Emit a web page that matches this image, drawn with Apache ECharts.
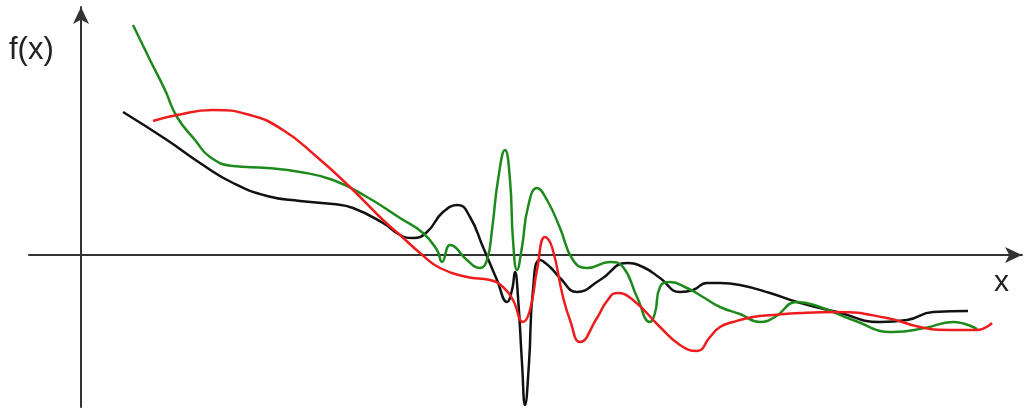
<!DOCTYPE html>
<html>
<head>
<meta charset="utf-8">
<style>
  html, body { margin: 0; padding: 0; background: #ffffff; }
  #chart { width: 1024px; height: 409px; }
</style>
<script src="https://cdn.jsdelivr.net/npm/echarts@6/dist/echarts.min.js"></script>
</head>
<body>
<div id="chart"></div>
<script>
// Three approximations of f(x), each as [x, f(x)] samples.
const blackCurve = [
  [4.2, 14.3], [8.6, 11.5], [11.9, 9.2], [15.2, 7.2], [18.6, 5.9],
  [21.9, 5.4], [25.2, 5.1], [27.2, 4.7], [30.2, 3.2], [31.9, 2.0], [33.2, 1.7],
  [34.6, 2.3], [36.2, 4.3], [37.7, 5.0], [38.9, 3.8], [40.2, 0.8], [41.6, -2.5],
  [42.6, -4.7], [43.1, -3.5], [43.4, -1.7], [43.7, -4.2], [44.1, -10.8], [44.4, -15.0],
  [44.8, -10.8], [45.2, -3.5], [45.9, -0.5], [46.9, -1.2], [47.9, -2.3], [49.6, -3.7],
  [51.9, -2.5], [54.6, -0.8], [56.2, -1.2], [57.9, -2.3], [59.9, -3.7], [61.2, -3.5],
  [62.6, -2.8], [63.9, -2.8], [65.9, -3.0], [68.9, -3.8], [71.6, -4.7], [75.6, -5.7],
  [79.9, -6.7], [82.6, -6.5], [85.2, -5.7], [88.7, -5.6]
];

const greenCurve = [
  [5.2, 23.0], [6.9, 19.5], [8.4, 16.5], [9.6, 13.8], [11.4, 11.5], [12.9, 9.8],
  [15.2, 8.9], [18.6, 8.7], [21.9, 8.3], [25.2, 7.5], [28.6, 5.8], [31.9, 3.7],
  [34.2, 2.2], [35.6, 0.5], [36.1, -0.7], [36.9, 1.0], [37.4, 0.8], [38.6, -0.5],
  [39.9, -1.3], [40.6, -0.5], [41.1, 2.5], [41.7, 7.5], [42.4, 10.5], [42.9, 7.5],
  [43.2, 1.5], [43.6, -1.5], [44.1, 0.8], [44.7, 4.8], [45.6, 6.7], [46.6, 5.5],
  [47.9, 2.7], [49.2, -0.5], [50.6, -1.3], [52.9, -0.7], [54.2, -1.2], [55.6, -4.2],
  [56.9, -6.7], [57.4, -5.8], [57.9, -3.2], [58.9, -2.7], [60.6, -3.3], [62.2, -4.2],
  [63.9, -5.2], [65.9, -5.9], [67.9, -6.7], [69.4, -6.2], [71.6, -4.7], [73.9, -5.2],
  [77.2, -6.5], [81.2, -7.7], [84.4, -7.3], [87.2, -6.7], [89.6, -7.4]
];

const redCurve = [
  [7.2, 13.4], [9.6, 14.0], [13.2, 14.5], [16.9, 14.0], [20.2, 12.5],
  [23.6, 9.8], [26.9, 6.8], [30.2, 3.5], [31.9, 2.0], [33.9, 0.2], [35.9, -1.3],
  [38.6, -2.2], [40.9, -2.5], [42.2, -3.2], [43.2, -4.5], [44.2, -6.7], [44.9, -5.5],
  [45.6, -1.5], [46.4, 1.8], [47.1, 0.8], [48.2, -4.2], [48.9, -6.5], [49.9, -8.7],
  [51.6, -6.3], [52.6, -4.6], [53.6, -3.8], [55.2, -4.5], [57.9, -7.2], [59.9, -9.0], [61.6, -9.6],
  [62.9, -8.2], [63.9, -7.2], [65.2, -6.7], [67.2, -6.2], [69.2, -6.0], [71.9, -5.8],
  [75.6, -5.7], [80.6, -6.3], [83.9, -7.2], [86.9, -7.5], [89.6, -7.5], [91.1, -6.8]
];

// Axis extents
const xRange = [-5.2, 94.1];
const yRange = [-15.2, 24.8];
const axisTitles = { y: 'f(x)', x: 'x' };

const axisLine = {
  show: true,
  onZero: true,
  symbol: ['none', 'arrow'],
  symbolSize: [12, 17],
  lineStyle: { color: '#333333', width: 2 }
};

const plainAxis = (range) => ({
  type: 'value',
  min: range[0],
  max: range[1],
  axisLine: axisLine,
  axisTick: { show: false },
  axisLabel: { show: false },
  splitLine: { show: false }
});

const curve = (data, color) => ({
  type: 'line',
  data: data,
  smooth: 0.5,
  showSymbol: false,
  symbol: 'none',
  lineStyle: { color: color, width: 2.5 },
  z: 3
});

const chart = echarts.init(document.getElementById('chart'), null, { renderer: 'canvas' });
chart.setOption({
  animation: false,
  backgroundColor: '#ffffff',
  grid: { left: 29, right: 2, top: 7, bottom: 2 },
  xAxis: plainAxis(xRange),
  yAxis: plainAxis(yRange),
  graphic: [
    {
      type: 'text', left: 9, top: 35,
      style: { text: axisTitles.y, font: '31px "Liberation Sans", Arial, sans-serif', fill: '#222222' }
    },
    {
      type: 'text', left: 994, top: 268,
      style: { text: axisTitles.x, font: '30px "Liberation Sans", Arial, sans-serif', fill: '#222222' }
    }
  ],
  series: [
    curve(blackCurve, '#111111'),
    curve(greenCurve, '#1e8a1e'),
    curve(redCurve, '#ee1c1c')
  ]
});
</script>
</body>
</html>
